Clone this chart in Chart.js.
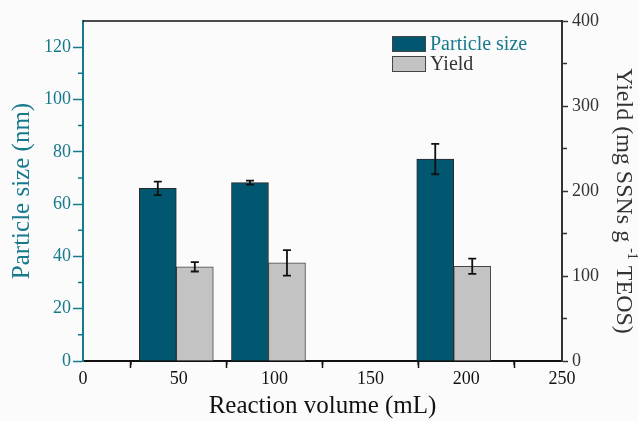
<!DOCTYPE html>
<html><head><meta charset="utf-8">
<script src="https://cdn.jsdelivr.net/npm/chart.js@4.4.0/dist/chart.umd.min.js"></script>
<style>html,body{margin:0;padding:0;background:#fbfbfb;} canvas{display:block;}</style>
</head><body>
<canvas id="c" width="638" height="421"></canvas>
<script>
// ---- data ----
const volumes = [48.7, 96.8, 193.5];          // reaction volume (mL) where each bar pair sits
const particleSize = [66.0, 68.2, 77.2];       // nm
const particleErr = [2.6, 0.8, 5.8];
const yieldVals = [110.8, 115.5, 111.4];       // mg SSNs g-1 TEOS
const yieldErr = [5.5, 15.0, 9.0];
const seriesNames = ['Particle size', 'Yield'];
const xTicks = [0, 50, 100, 150, 200, 250];
const xMinor = [25, 75, 125, 175, 225];
const leftTicks = [0, 20, 40, 60, 80, 100, 120];
const leftMinor = [10, 30, 50, 70, 90, 110];
const rightTicks = [0, 100, 200, 300, 400];
const rightMinor = [50, 150, 250, 350];

const FONT = 'Liberation Serif';
const TEAL = '#17798c';
const BAR1 = '#00576f';
const BAR2 = '#c3c3c3';
const DARK = '#333333';

const errorBars = {
  id: 'errorBars',
  afterDatasetsDraw(chart) {
    const ctx = chart.ctx;
    const errs = [particleErr, yieldErr];
    const vals = [particleSize, yieldVals];
    chart.data.datasets.forEach((ds, i) => {
      const meta = chart.getDatasetMeta(i);
      const ys = chart.scales[meta.yAxisID];
      meta.data.forEach((el, j) => {
        const x = el.x;
        const yt = ys.getPixelForValue(vals[i][j] + errs[i][j]);
        const yb = ys.getPixelForValue(vals[i][j] - errs[i][j]);
        ctx.save();
        ctx.strokeStyle = '#111';
        ctx.lineWidth = 1.8;
        ctx.beginPath();
        ctx.moveTo(x, yt); ctx.lineTo(x, yb);
        ctx.moveTo(x - 4, yt); ctx.lineTo(x + 4, yt);
        ctx.moveTo(x - 4, yb); ctx.lineTo(x + 4, yb);
        ctx.stroke();
        ctx.restore();
      });
    });
  }
};

const decorations = {
  id: 'decorations',
  afterDraw(chart) {
    const ctx = chart.ctx;
    const a = chart.chartArea;
    const sx = chart.scales.x, sl = chart.scales.yL, sr = chart.scales.yR;
    ctx.save();
    // top frame
    ctx.strokeStyle = '#111'; ctx.lineWidth = 1.5;
    ctx.beginPath(); ctx.moveTo(a.left, a.top); ctx.lineTo(a.right, a.top); ctx.stroke();
    // minor ticks
    ctx.lineWidth = 1.5;
    ctx.strokeStyle = '#111';
    ctx.beginPath();
    xMinor.forEach(v => { const p = sx.getPixelForValue(v); ctx.moveTo(p, a.bottom); ctx.lineTo(p, a.bottom + 4); });
    ctx.stroke();
    ctx.strokeStyle = TEAL;
    ctx.beginPath();
    leftMinor.forEach(v => { const p = sl.getPixelForValue(v); ctx.moveTo(a.left, p); ctx.lineTo(a.left - 5, p); });
    ctx.stroke();
    ctx.strokeStyle = DARK;
    ctx.beginPath();
    rightMinor.forEach(v => { const p = sr.getPixelForValue(v); ctx.moveTo(a.right, p); ctx.lineTo(a.right + 5, p); });
    ctx.stroke();

    // legend
    const lx = a.left + 309, ly = a.top + 15;
    const cols = [[BAR1, TEAL], [BAR2, DARK]];
    seriesNames.forEach((name, i) => {
      const y = ly + i * 20;
      ctx.fillStyle = cols[i][0];
      ctx.fillRect(lx, y, 34, 16);
      ctx.strokeStyle = '#444'; ctx.lineWidth = 1;
      ctx.strokeRect(lx + 0.5, y + 0.5, 33, 15);
      ctx.fillStyle = cols[i][1];
      ctx.font = '20px "' + FONT + '"';
      ctx.textBaseline = 'middle';
      ctx.textAlign = 'left';
      ctx.fillText(name, lx + 38, y + 9);
    });

    // right axis title with superscript
    ctx.translate(623, 201);
    ctx.rotate(Math.PI / 2);
    const parts = [['Yield (mg SSNs g ', 24, 0], ['-1', 14, -9], [' TEOS)', 24, 0]];
    let total = 0;
    parts.forEach(p => { ctx.font = p[1] + 'px "' + FONT + '"'; total += ctx.measureText(p[0]).width; });
    let cx = -total / 2;
    ctx.fillStyle = DARK;
    ctx.textBaseline = 'middle';
    ctx.textAlign = 'left';
    parts.forEach(p => {
      ctx.font = p[1] + 'px "' + FONT + '"';
      ctx.fillText(p[0], cx, p[2]);
      cx += ctx.measureText(p[0]).width;
    });
    ctx.restore();
  }
};

new Chart(document.getElementById('c'), {
  type: 'bar',
  data: {
    datasets: [
      { label: seriesNames[0], data: volumes.map((x, i) => ({ x, y: particleSize[i] })), yAxisID: 'yL',
        backgroundColor: BAR1, borderColor: '#2a2a2a', borderWidth: 1, barThickness: 37 },
      { label: seriesNames[1], data: volumes.map((x, i) => ({ x, y: yieldVals[i] })), yAxisID: 'yR',
        backgroundColor: BAR2, borderColor: '#444', borderWidth: 1, barThickness: 37 }
    ]
  },
  options: {
    responsive: false,
    animation: false,
    layout: { padding: { top: 21, left: 0, right: 0, bottom: 0 } },
    plugins: { legend: { display: false }, tooltip: { enabled: false } },
    scales: {
      x: {
        type: 'linear', position: 'bottom', min: 0, max: 250, offset: false,
        afterBuildTicks: s => { s.ticks = xTicks.map(v => ({ value: v })); },
        afterFit: s => { s.height = 60; },
        ticks: { font: { family: FONT, size: 18 }, color: '#111', padding: 0, maxRotation: 0, autoSkip: false },
        grid: { drawOnChartArea: false, tickLength: 7, tickColor: '#111', tickWidth: 1.5 },
        border: { color: '#111', width: 2 },
        title: { display: true, text: 'Reaction volume (mL)', color: '#111',
                 font: { family: FONT, size: 25, lineHeight: 1 }, padding: { top: 0, bottom: 2 } }
      },
      yL: {
        type: 'linear', position: 'left', min: 0, max: 130,
        afterBuildTicks: s => { s.ticks = leftTicks.map(v => ({ value: v })); },
        afterFit: s => { s.width = 83; },
        ticks: { font: { family: FONT, size: 18 }, color: TEAL, padding: 2 },
        grid: { drawOnChartArea: false, tickLength: 10, tickColor: TEAL, tickWidth: 1.5 },
        border: { color: TEAL, width: 2 },
        title: { display: true, text: 'Particle size (nm)', color: TEAL,
                 font: { family: FONT, size: 25, lineHeight: 1 }, padding: { top: 10, bottom: 0 } }
      },
      yR: {
        type: 'linear', position: 'right', min: 0, max: 400,
        afterBuildTicks: s => { s.ticks = rightTicks.map(v => ({ value: v })); },
        afterFit: s => { s.width = 76; },
        ticks: { font: { family: FONT, size: 18 }, color: DARK, padding: 4 },
        grid: { drawOnChartArea: false, tickLength: 6, tickColor: DARK, tickWidth: 1.5 },
        border: { color: DARK, width: 2 }
      }
    }
  },
  plugins: [errorBars, decorations]
});
</script>
</body></html>
